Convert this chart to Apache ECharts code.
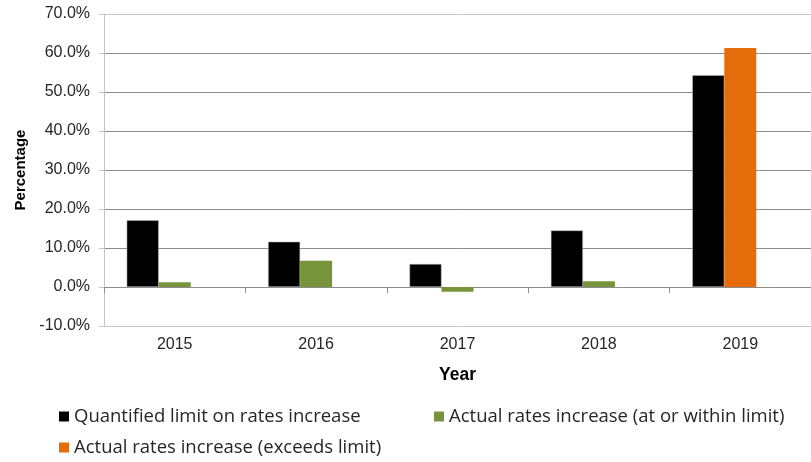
<!DOCTYPE html>
<html>
<head>
<meta charset="utf-8">
<script src="https://cdn.jsdelivr.net/npm/echarts@6/dist/echarts.min.js"></script>
<style>
html,body{margin:0;padding:0;background:#fff;}
#chart{width:811px;height:462px;}
</style>
</head>
<body>
<div id="chart"></div>
<script>
var years = ['2015', '2016', '2017', '2018', '2019'];
var limitValues = [17.1, 11.6, 5.9, 14.5, 54.3];
var actualWithin = [1.2, 6.7, -1.2, 1.5, null];
var actualExceeds = [null, null, null, null, 61.3];
var seriesNames = ['Quantified limit on rates increase', 'Actual rates increase (at or within limit)', 'Actual rates increase (exceeds limit)'];
var yTicks = [-10, 0, 10, 20, 30, 40, 50, 60, 70];

var chart = echarts.init(document.getElementById('chart'), null, {renderer: 'canvas'});
var legendText = {fontFamily: 'Open Sans', fontSize: 18.5, color: '#262626'};
function legendAt(name, left, top) {
  return {
    data: [name], left: left, top: top, orient: 'horizontal',
    itemWidth: 10, itemHeight: 10, itemGap: 0, icon: 'rect',
    itemStyle: {borderWidth: 0},
    textStyle: legendText, selectedMode: false, padding: 0
  };
}
var gridColors = yTicks.map(function (v, i) { return (i === 0 || i === yTicks.length - 1) ? '#c4c4c4' : '#8c8c8c'; });
chart.setOption({
  animation: false,
  backgroundColor: '#ffffff',
  grid: {left: 104, top: 14, width: 711, height: 312, containLabel: false},
  legend: [
    legendAt(seriesNames[0], 59, 407),
    legendAt(seriesNames[1], 434, 407),
    legendAt(seriesNames[2], 59, 438)
  ],
  xAxis: {
    type: 'category',
    data: years,
    boundaryGap: true,
    axisLine: {onZero: true, lineStyle: {color: '#8c8c8c', width: 1}},
    axisTick: {show: true, length: 6, lineStyle: {color: '#8c8c8c'}},
    axisLabel: {margin: 11, fontFamily: 'Liberation Sans', fontSize: 16, color: '#262626'},
    name: 'Year',
    nameLocation: 'middle',
    nameGap: 40,
    nameTextStyle: {fontFamily: 'Liberation Sans', fontSize: 17.5, fontWeight: 'bold', color: '#000'}
  },
  yAxis: {
    type: 'value',
    min: yTicks[0],
    max: yTicks[yTicks.length - 1],
    interval: 10,
    axisLine: {show: true, lineStyle: {color: '#c4c4c4'}},
    axisTick: {show: true, length: 5, lineStyle: {color: '#c4c4c4'}},
    axisLabel: {
      formatter: function (v) { return v.toFixed(1) + '%'; },
      fontFamily: 'Liberation Sans', fontSize: 16, color: '#262626', margin: 14
    },
    splitLine: {show: true, lineStyle: {color: gridColors, width: 1}},
    name: 'Percentage',
    nameLocation: 'middle',
    nameRotate: 90,
    nameGap: 76,
    nameTextStyle: {fontFamily: 'Liberation Sans', fontSize: 15, fontWeight: 'bold', color: '#000'}
  },
  series: [
    {name: seriesNames[0], type: 'bar', data: limitValues, barWidth: 32, barGap: '0%',
     itemStyle: {color: '#000000', borderColor: '#bfbfbf', borderWidth: 0.5}},
    {name: seriesNames[1], type: 'bar', stack: 'actual', data: actualWithin, barWidth: 32,
     itemStyle: {color: '#77933c'}},
    {name: seriesNames[2], type: 'bar', stack: 'actual', data: actualExceeds, barWidth: 32,
     itemStyle: {color: '#e46c0a'}},
    {name: 'spacer', type: 'bar', data: years.map(function () { return null; }), barWidth: 32}
  ]
});
</script>
</body>
</html>
